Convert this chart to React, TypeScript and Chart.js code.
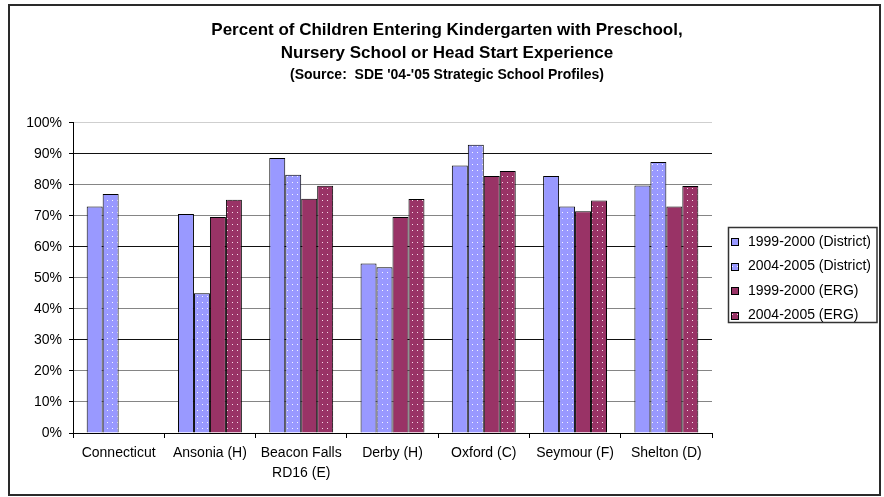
import React, { useEffect, useRef } from "react";
import { Chart, registerables } from "chart.js";

Chart.register(...registerables);

const titleLines = [
  "Percent of Children Entering Kindergarten with Preschool,",
  "Nursery School or Head Start Experience",
];
const subtitleText = "(Source:  SDE '04-'05 Strategic School Profiles)";

const categories: (string | string[])[] = [
  "Connecticut",
  "Ansonia (H)",
  ["Beacon Falls", "RD16 (E)"],
  "Derby (H)",
  "Oxford (C)",
  "Seymour (F)",
  "Shelton (D)",
];

const seriesLabels = [
  "1999-2000 (District)",
  "2004-2005 (District)",
  "1999-2000 (ERG)",
  "2004-2005 (ERG)",
];

const district1999 = [73, 70.6, 88.6, 54.6, 86.2, 82.8, 79.8];
const district2004 = [77, 45, 83.2, 53.4, 92.9, 73, 87.3];
const erg1999 = [null, 69.6, 75.5, 69.6, 82.8, 71.5, 73];
const erg2004 = [null, 75.2, 79.7, 75.4, 84.4, 74.9, 79.6];

const yMin = 0;
const yMax = 100;
const yStep = 10;

const BLUE = "#9999FF";
const MAROON = "#993366";
const FONT = "Arial, 'Liberation Sans', sans-serif";

function makePattern(base: string, dot: string): CanvasPattern | string {
  const c = document.createElement("canvas");
  c.width = 5;
  c.height = 6;
  const g = c.getContext("2d");
  if (!g) return base;
  g.fillStyle = base;
  g.fillRect(0, 0, 5, 6);
  g.fillStyle = dot;
  g.fillRect(2, 2, 1, 1);
  return g.createPattern(c, "repeat") || base;
}

const framePlugin = {
  id: "frameLegend",
  afterDraw(chart: any) {
    const ctx = chart.ctx as CanvasRenderingContext2D;
    ctx.save();
    // outer frame
    ctx.strokeStyle = "#2a2a2a";
    ctx.lineWidth = 2;
    ctx.strokeRect(9, 5, 871, 490);
    // legend frame
    ctx.lineWidth = 1.5;
    ctx.strokeStyle = "#333";
    ctx.strokeRect(728.5, 227.5, 148.5, 95);
    chart.data.datasets.forEach((ds: any, i: number) => {
      const y = 242 + i * 24.5;
      ctx.fillStyle = ds.backgroundColor;
      ctx.fillRect(731, Math.round(y - 4), 7, 7);
      ctx.strokeStyle = "#000";
      ctx.lineWidth = 1;
      ctx.strokeRect(731.5, Math.round(y - 4) + 0.5, 7, 7);
      ctx.fillStyle = "#000";
      ctx.font = `14px ${FONT}`;
      ctx.textBaseline = "middle";
      ctx.textAlign = "left";
      ctx.fillText(ds.label, 748, y);
    });
    ctx.restore();
  },
};

export default function App() {
  const ref = useRef<HTMLCanvasElement | null>(null);

  useEffect(() => {
    if (!ref.current) return;
    const blueDots = makePattern(BLUE, "rgba(255,255,255,0.9)");
    const maroonDots = makePattern(MAROON, "rgba(255,235,245,0.9)");

    const chart = new Chart(ref.current, {
      type: "bar",
      data: {
        labels: categories,
        datasets: [
          { label: seriesLabels[0], data: district1999, backgroundColor: BLUE },
          { label: seriesLabels[1], data: district2004, backgroundColor: blueDots as any },
          { label: seriesLabels[2], data: erg1999 as any, backgroundColor: MAROON },
          { label: seriesLabels[3], data: erg2004 as any, backgroundColor: maroonDots as any },
        ].map((d) => ({
          ...d,
          borderColor: "#000",
          borderWidth: 1,
          barPercentage: 1.0,
          categoryPercentage: 0.7,
          yAxisID: "y",
        })),
      },
      options: {
        responsive: false,
        devicePixelRatio: 1,
        animation: false,
        layout: { padding: { left: 14, right: 4, top: 0, bottom: 0 } },
        plugins: {
          legend: { display: false },
          tooltip: { enabled: false },
          title: {
            display: true,
            text: titleLines,
            color: "#000",
            font: { family: FONT, size: 17, weight: "bold", lineHeight: 1.35 },
            padding: { top: 19, bottom: 0 },
          },
          subtitle: {
            display: true,
            text: subtitleText,
            color: "#000",
            font: { family: FONT, size: 14, weight: "bold", lineHeight: 1.2 },
            padding: { top: 2, bottom: 39 },
          },
        },
        scales: {
          x: {
            offset: true,
            grid: {
              offset: true,
              drawOnChartArea: false,
              drawTicks: true,
              tickLength: 5,
              tickColor: "#000",
            },
            border: { color: "#000", width: 1 },
            ticks: {
              color: "#000",
              font: { family: FONT, size: 14, lineHeight: 1.45 },
              padding: 5,
              maxRotation: 0,
              autoSkip: false,
            },
            afterFit: (s: any) => {
              s.height = 64;
            },
          },
          y: {
            min: yMin,
            max: yMax,
            position: "left",
            ticks: {
              stepSize: yStep,
              color: "#000",
              font: { family: FONT, size: 14 },
              padding: 7,
              callback: (v: any) => `${v}%`,
            },
            grid: {
              color: (c: any) => {
                const v = c.tick ? c.tick.value : 0;
                if (v === 100) return "#cfcfcf";
                if (v > 0 && v % 30 === 0) return "#111";
                return "#858585";
              },
              tickColor: "#000",
              tickLength: 4,
            },
            border: { color: "#000", width: 1 },
            afterFit: (s: any) => {
              s.width = 59;
            },
          },
          legendSpace: {
            type: "linear",
            position: "right",
            display: true,
            ticks: { display: false },
            grid: { display: false, drawTicks: false },
            border: { display: false },
            afterFit: (s: any) => {
              s.width = 168;
            },
          },
        },
      },
      plugins: [framePlugin],
    } as any);
    return () => chart.destroy();
  }, []);

  return (
    <div style={{ position: "absolute", left: 0, top: 0, width: 884, height: 497, background: "#fff" }}>
      <canvas ref={ref} width={884} height={497} style={{ display: "block", width: 884, height: 497 }} />
    </div>
  );
}
